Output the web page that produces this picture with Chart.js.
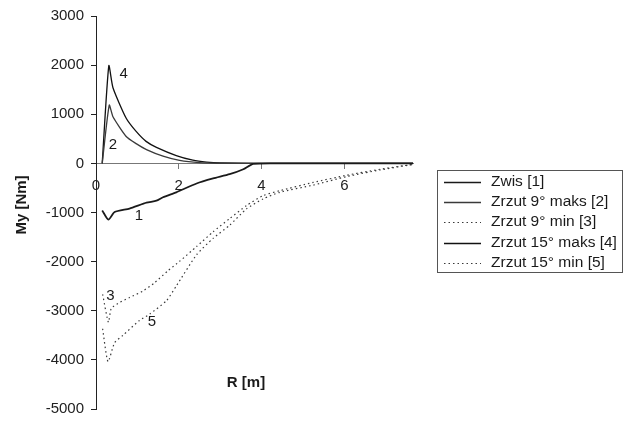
<!DOCTYPE html>
<html>
<head>
<meta charset="utf-8">
<script src="https://cdn.jsdelivr.net/npm/chart.js@4/dist/chart.umd.min.js"></script>
<style>
  html, body { margin: 0; padding: 0; background: #fff; }
  #wrap { width: 626px; height: 425px; position: relative; }
</style>
</head>
<body>
<div id="wrap"><canvas id="c" width="626" height="425"></canvas></div>
<script>
// Bending moment My [Nm] along the radius R [m]
const zwisR = [0.15, 0.30, 0.45, 0.81, 1.22, 1.46, 1.62, 1.94, 2.43, 2.83, 3.23, 3.56, 3.80, 4.5, 5.5, 6.5, 7.66];
const zwisMy = [-957, -1145, -991, -920, -800, -760, -690, -589, -410, -307, -221, -120, -10, 0, 0, 0, 0];

const max9R = [0.15, 0.32, 0.41, 0.73, 0.97, 1.22, 1.62, 2.02, 2.5, 3.0, 4.0, 5.0, 6.0, 7.0, 7.66];
const max9My = [0, 1185, 950, 548, 402, 281, 147, 60, 14, 3, 0, 0, 0, 0, 0];

const min9R = [0.16, 0.30, 0.37, 0.57, 0.81, 1.13, 1.40, 1.74, 2.02, 2.43, 2.83, 3.23, 3.64, 4.04, 4.44, 5.25, 6.06, 6.86, 7.66];
const min9My = [-2665, -3233, -2950, -2831, -2731, -2600, -2440, -2185, -1994, -1693, -1392, -1124, -857, -656, -556, -388, -241, -120, -20];

const max15R = [0.15, 0.31, 0.41, 0.73, 0.97, 1.21, 1.46, 1.94, 2.34, 2.67, 3.0, 4.0, 5.0, 6.0, 7.0, 7.66];
const max15My = [0, 1990, 1540, 918, 650, 448, 327, 160, 66, 26, 8, 0, 0, 0, 0, 0];

const min15R = [0.16, 0.29, 0.45, 0.65, 1.05, 1.30, 1.70, 1.94, 2.43, 2.83, 3.23, 3.64, 4.04, 4.44, 5.25, 6.06, 6.86, 7.66];
const min15My = [-3367, -4036, -3650, -3500, -3199, -3066, -2797, -2496, -1861, -1526, -1259, -924, -723, -589, -442, -268, -134, -20];

const seriesNames = ['Zwis [1]', 'Zrzut 9° maks [2]', 'Zrzut 9° min [3]', 'Zrzut 15° maks [4]', 'Zrzut 15° min [5]'];
const yTicks = [3000, 2000, 1000, 0, -1000, -2000, -3000, -4000, -5000];
const xTicks = [0, 2, 4, 6];

// curve numbers placed next to each curve (R, My)
const curveTags = ['1', '2', '3', '4', '5'];
const curveTagR = [1.04, 0.41, 0.35, 0.67, 1.35];
const curveTagMy = [-1059, 382, -2700, 1823, -3216];

const FONT = '"Liberation Sans", Arial, sans-serif';

function pts(xs, ys) { return xs.map((x, i) => ({ x: x, y: ys[i] })); }

const styles = [
  { color: '#1a1a1a', width: 1.8, dash: [] },
  { color: '#3a3a3a', width: 1.3, dash: [] },
  { color: '#3a3a3a', width: 1.2, dash: [1.5, 3] },
  { color: '#111111', width: 1.3, dash: [] },
  { color: '#3a3a3a', width: 1.2, dash: [1.5, 3] }
];
const dataSets = [pts(zwisR, zwisMy), pts(max9R, max9My), pts(min9R, min9My), pts(max15R, max15My), pts(min15R, min15My)];

const decorations = {
  id: 'decorations',
  afterDraw(chart) {
    const ctx = chart.ctx;
    const xs = chart.scales.x, ys = chart.scales.y;
    ctx.save();
    // curve numbers
    ctx.fillStyle = '#1a1a1a';
    ctx.font = '15px ' + FONT;
    ctx.textAlign = 'center';
    ctx.textBaseline = 'middle';
    curveTags.forEach((t, i) => {
      ctx.fillText(t, xs.getPixelForValue(curveTagR[i]), ys.getPixelForValue(curveTagMy[i]));
    });
    // axis titles
    ctx.font = 'bold 15px ' + FONT;
    ctx.fillText('R [m]', 246, 383);
    ctx.save();
    ctx.translate(22, 205);
    ctx.rotate(-Math.PI / 2);
    ctx.fillText('My [Nm]', 0, 0);
    ctx.restore();
    // legend box
    const bx = 437.5, by = 170.5, bw = 185, bh = 102;
    ctx.strokeStyle = '#555';
    ctx.lineWidth = 1;
    ctx.strokeRect(bx, by, bw, bh);
    ctx.font = '15.5px ' + FONT;
    ctx.textAlign = 'left';
    const rowY = [182, 202, 222, 243, 263];
    seriesNames.forEach((name, i) => {
      const s = styles[i];
      ctx.beginPath();
      ctx.setLineDash(s.dash);
      ctx.strokeStyle = s.color;
      ctx.lineWidth = Math.min(s.width, 1.3);
      ctx.moveTo(444, rowY[i] + 0.5);
      ctx.lineTo(481, rowY[i] + 0.5);
      ctx.stroke();
      ctx.setLineDash([]);
      ctx.fillStyle = '#1a1a1a';
      ctx.fillText(name, 491, rowY[i]);
    });
    ctx.restore();
  }
};

new Chart(document.getElementById('c'), {
  type: 'line',
  data: {
    datasets: dataSets.map((d, i) => ({
      label: seriesNames[i],
      data: d,
      borderColor: styles[i].color,
      borderWidth: styles[i].width,
      borderDash: styles[i].dash,
      pointRadius: 0,
      fill: false,
      tension: 0.2,
      clip: false
    }))
  },
  options: {
    responsive: false,
    animation: false,
    layout: { padding: { left: 0, top: 15, right: 213, bottom: 12 } },
    plugins: { legend: { display: false }, tooltip: { enabled: false } },
    scales: {
      x: {
        type: 'linear',
        position: { y: 0 },
        min: 0,
        max: 7.66,
        afterBuildTicks(scale) { scale.ticks = xTicks.map(v => ({ value: v })); },
        ticks: { color: '#222', font: { family: FONT, size: 15 }, padding: 8, maxRotation: 0,
                 callback: v => String(v) },
        grid: { drawOnChartArea: false, drawTicks: true, tickLength: 5, color: '#777' },
        border: { display: true, color: '#777', width: 1 }
      },
      y: {
        type: 'linear',
        min: -5000,
        max: 3000,
        afterBuildTicks(scale) { scale.ticks = yTicks.map(v => ({ value: v })); },
        afterFit(scale) { scale.width = 96; },
        ticks: { color: '#222', font: { family: FONT, size: 15 }, padding: 7,
                 callback: v => String(v) },
        grid: { drawOnChartArea: false, drawTicks: true, tickLength: 5, color: '#222' },
        border: { display: true, color: '#222', width: 1 }
      }
    }
  },
  plugins: [decorations]
});
</script>
</body>
</html>
